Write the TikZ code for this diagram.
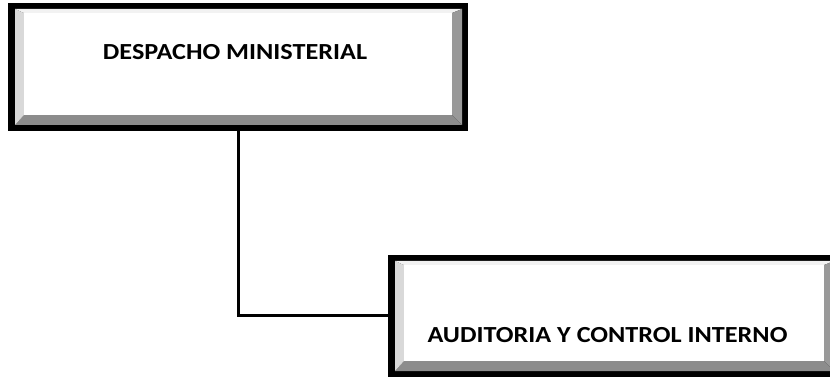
\documentclass[tikz,border=0pt]{standalone}
\usepackage{fontspec}
\setmainfont{Carlito}[FakeStretch=1.14]
\begin{document}
\begin{tikzpicture}[x=1pt,y=-1pt,
  bevelbox/.style={draw=none, fill=black, inner sep=0pt, path picture={
    \coordinate (A) at ([shift={(7pt,-6pt)}]path picture bounding box.north west);
    \coordinate (B) at ([shift={(-6pt,-6pt)}]path picture bounding box.north east);
    \coordinate (C) at ([shift={(-6pt,6pt)}]path picture bounding box.south east);
    \coordinate (D) at ([shift={(7pt,6pt)}]path picture bounding box.south west);
    \coordinate (a) at ([shift={(9pt,-4pt)}]A);
    \coordinate (b) at ([shift={(-10pt,-4pt)}]B);
    \coordinate (c) at ([shift={(-10pt,10pt)}]C);
    \coordinate (d) at ([shift={(9pt,10pt)}]D);
    \fill[bevtop] (A) -- (B) -- (b) -- (a) -- cycle;
    \fill[bevright] (B) -- (C) -- (c) -- (b) -- cycle;
    \fill[bevbottom] (C) -- (D) -- (d) -- (c) -- cycle;
    \fill[bevleft] (D) -- (A) -- (a) -- (d) -- cycle;
    \fill[white] (a) -- (b) -- (c) -- (d) -- cycle;
  }},
  bevtop/.style={fill=black!5},
  bevleft/.style={fill=black!15},
  bevright/.style={fill=black!40},
  bevbottom/.style={fill=black!45},
  boxtext/.style={font=\fontsize{23}{27}\selectfont\bfseries, anchor=base, inner sep=0pt},
  connector/.style={line width=3pt}
]
\clip (0,0) rectangle (830,379);
\fill[white] (0,0) rectangle (830,379);
\node[bevelbox, minimum width=460pt, minimum height=128pt] (desp) at (238,67) {};
\node[bevelbox, minimum width=452pt, minimum height=122pt] (aud) at (614,316) {};
\node[boxtext] (desptext) at (235,60) {DESPACHO MINISTERIAL};
\node[boxtext] (audtext) at (607.5,342) {AUDITORIA Y CONTROL INTERNO};
\draw[connector] (desp.south) |- (aud.west);
\end{tikzpicture}
\end{document}
